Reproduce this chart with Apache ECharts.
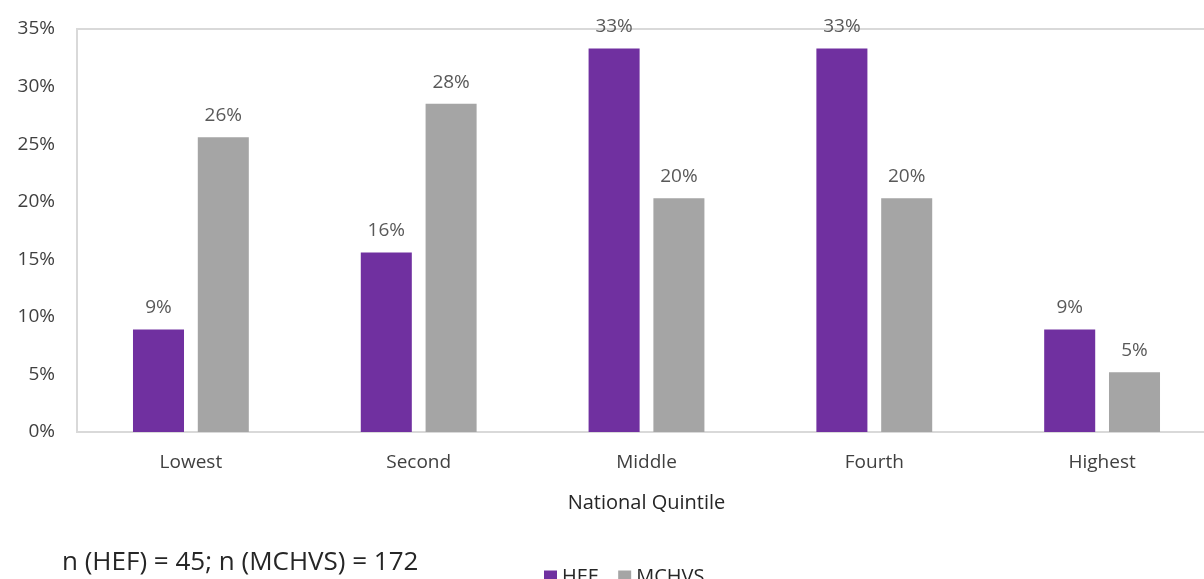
<!DOCTYPE html>
<html>
<head>
<meta charset="utf-8">
<script src="https://cdn.jsdelivr.net/npm/echarts@6/dist/echarts.min.js"></script>
<style>
  html, body { margin: 0; padding: 0; background: #fff; }
  #chart { width: 1204px; height: 579px; }
</style>
</head>
<body>
<div id="chart"></div>
<script>
// quintile categories
const categories = ['Lowest', 'Second', 'Middle', 'Fourth', 'Highest']
// shares (fraction of respondents)
const hefValues = [0.089, 0.156, 0.333, 0.333, 0.089]
const mchvsValues = [0.256, 0.285, 0.203, 0.203, 0.052]
const seriesNames = ['HEF', 'MCHVS']
const seriesColors = ['#7030A0', '#A5A5A5']

const chart = echarts.init(document.getElementById('chart'))
const font = '"Open Sans", "Noto Sans", sans-serif'

const makeSeries = (name, data, color) => ({
  name: name,
  type: 'bar',
  data: data,
  barWidth: '22.4%',
  barGap: '27%',
  itemStyle: { color: color },
  label: {
    show: true,
    position: 'top',
    distance: 12,
    color: '#595959',
    fontFamily: font,
    fontSize: 19,
    formatter: (p) => Math.round(p.value * 100) + '%'
  }
})

chart.setOption({
  animation: false,
  textStyle: { fontFamily: font },
  grid: {
    left: 77,
    width: 1139,
    top: 29,
    bottom: 147,
    outerBoundsMode: 'none',
    containLabel: false,
    show: true,
    borderColor: '#D9D9D9',
    borderWidth: 2
  },
  xAxis: {
    type: 'category',
    data: categories,
    axisTick: { show: false },
    axisLine: { lineStyle: { color: '#D9D9D9', width: 2 } },
    axisLabel: { color: '#404040', fontSize: 19, margin: 21, fontFamily: font },
    name: 'National Quintile',
    nameLocation: 'middle',
    nameGap: 61,
    nameTextStyle: { color: '#262626', fontSize: 20, fontFamily: font }
  },
  yAxis: {
    type: 'value',
    min: 0,
    max: 0.35,
    interval: 0.05,
    splitLine: { show: false },
    axisLine: { show: false },
    axisTick: { show: false },
    axisLabel: {
      color: '#404040',
      fontSize: 19,
      margin: 22,
      fontFamily: font,
      formatter: (v) => Math.round(v * 100) + '%'
    }
  },
  legend: {
    left: 539,
    top: 562,
    itemWidth: 13,
    itemHeight: 13,
    itemGap: 20,
    icon: 'rect',
    textStyle: { color: '#262626', fontSize: 20, fontFamily: font },
    data: seriesNames
  },
  graphic: [{
    type: 'text',
    left: 62,
    top: 550,
    style: {
      text: 'n (HEF) = 45; n (MCHVS) = 172',
      fill: '#262626',
      fontSize: 26,
      fontFamily: font
    }
  }],
  series: [
    makeSeries(seriesNames[0], hefValues, seriesColors[0]),
    makeSeries(seriesNames[1], mchvsValues, seriesColors[1])
  ]
})
</script>
</body>
</html>
